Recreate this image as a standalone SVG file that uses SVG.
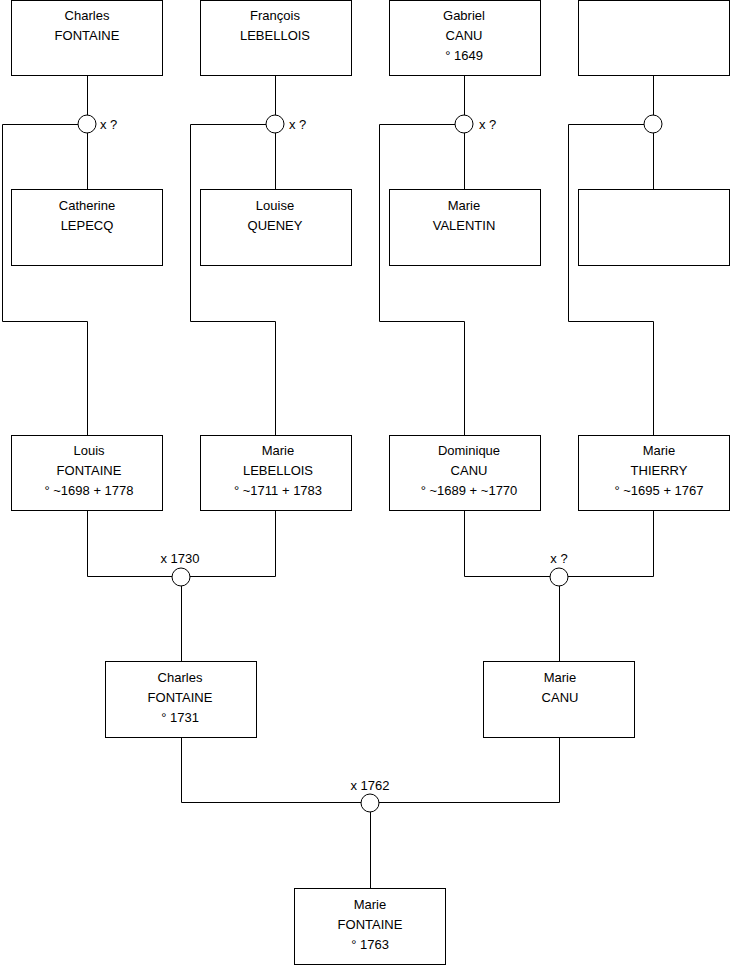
<svg xmlns="http://www.w3.org/2000/svg" width="740" height="975" viewBox="0 0 740 975">
<style>
.box{fill:#fff;stroke:#000;stroke-width:1}
.c{fill:#fff;stroke:#000;stroke-width:1}
.ln{fill:none;stroke:#000;stroke-width:1}
text{font-family:"Liberation Sans",Arial,sans-serif;font-size:13px;fill:#000}
.m{text-anchor:middle}
</style>
<rect width="740" height="975" fill="#fff"/>
<g id="connectors">
<path class="ln" d="M87.5 75.5V189.5M2.5 124.5H78M2.5 124.5V321.5H87.5V435.5"/>
<path class="ln" d="M275.5 75.5V189.5M190.5 124.5H266M190.5 124.5V321.5H275.5V435.5"/>
<path class="ln" d="M464.5 75.5V189.5M379.5 124.5H455M379.5 124.5V321.5H464.5V435.5"/>
<path class="ln" d="M653.5 75.5V189.5M568.5 124.5H644M568.5 124.5V321.5H653.5V435.5"/>
<path class="ln" d="M87.5 510.5V576.5H275.5V510.5M181.5 576.5V661.5"/>
<path class="ln" d="M464.5 510.5V576.5H653.5V510.5M559.5 576.5V661.5"/>
<path class="ln" d="M181.5 737.5V802.5H559.5V737.5M370.5 802.5V888.5"/>
</g>
<g id="u1"><circle class="c" cx="87" cy="124" r="9"/><text x="100" y="129">x ?</text></g>
<g id="u2"><circle class="c" cx="275" cy="124" r="9"/><text x="289" y="129">x ?</text></g>
<g id="u3"><circle class="c" cx="464" cy="124" r="9"/><text x="479" y="129">x ?</text></g>
<g id="u4"><circle class="c" cx="653" cy="124" r="9"/></g>
<g id="u5"><circle class="c" cx="181" cy="577" r="9"/><text class="m" x="180" y="563">x 1730</text></g>
<g id="u6"><circle class="c" cx="559" cy="577" r="9"/><text class="m" x="559" y="563">x ?</text></g>
<g id="u7"><circle class="c" cx="370" cy="803" r="9"/><text class="m" x="370" y="790">x 1762</text></g>

<g id="p1"><rect class="box" x="11.5" y="0.5" width="151" height="75"/><text class="m" x="87" y="20">Charles</text><text class="m" x="87" y="40">FONTAINE</text></g>
<g id="p2"><rect class="box" x="200.5" y="0.5" width="151" height="75"/><text class="m" x="275" y="20">François</text><text class="m" x="275" y="40">LEBELLOIS</text></g>
<g id="p3"><rect class="box" x="389.5" y="0.5" width="151" height="75"/><text class="m" x="464" y="20">Gabriel</text><text class="m" x="464" y="40">CANU</text><text class="m" x="464" y="60">° 1649</text></g>
<g id="p4"><rect class="box" x="578.5" y="0.5" width="151" height="75"/></g>

<g id="p5"><rect class="box" x="11.5" y="189.5" width="151" height="76"/><text class="m" x="87" y="210">Catherine</text><text class="m" x="87" y="230">LEPECQ</text></g>
<g id="p6"><rect class="box" x="200.5" y="189.5" width="151" height="76"/><text class="m" x="275" y="210">Louise</text><text class="m" x="275" y="230">QUENEY</text></g>
<g id="p7"><rect class="box" x="389.5" y="189.5" width="151" height="76"/><text class="m" x="464" y="210">Marie</text><text class="m" x="464" y="230">VALENTIN</text></g>
<g id="p8"><rect class="box" x="578.5" y="189.5" width="151" height="76"/></g>

<g id="p9"><rect class="box" x="11.5" y="435.5" width="151" height="75"/><text class="m" x="89" y="455">Louis</text><text class="m" x="89" y="475">FONTAINE</text><text class="m" x="89" y="495">° ~1698 + 1778</text></g>
<g id="p10"><rect class="box" x="200.5" y="435.5" width="151" height="75"/><text class="m" x="278" y="455">Marie</text><text class="m" x="278" y="475">LEBELLOIS</text><text class="m" x="278" y="495">° ~1711 + 1783</text></g>
<g id="p11"><rect class="box" x="389.5" y="435.5" width="151" height="75"/><text class="m" x="469" y="455">Dominique</text><text class="m" x="469" y="475">CANU</text><text class="m" x="469" y="495">° ~1689 + ~1770</text></g>
<g id="p12"><rect class="box" x="578.5" y="435.5" width="151" height="75"/><text class="m" x="659" y="455">Marie</text><text class="m" x="659" y="475">THIERRY</text><text class="m" x="659" y="495">° ~1695 + 1767</text></g>

<g id="p13"><rect class="box" x="105.5" y="661.5" width="151" height="76"/><text class="m" x="180" y="682">Charles</text><text class="m" x="180" y="702">FONTAINE</text><text class="m" x="180" y="722">° 1731</text></g>
<g id="p14"><rect class="box" x="483.5" y="661.5" width="151" height="76"/><text class="m" x="560" y="682">Marie</text><text class="m" x="560" y="702">CANU</text></g>

<g id="p15"><rect class="box" x="294.5" y="888.5" width="151" height="76"/><text class="m" x="370" y="909">Marie</text><text class="m" x="370" y="929">FONTAINE</text><text class="m" x="370" y="949">° 1763</text></g>
</svg>
